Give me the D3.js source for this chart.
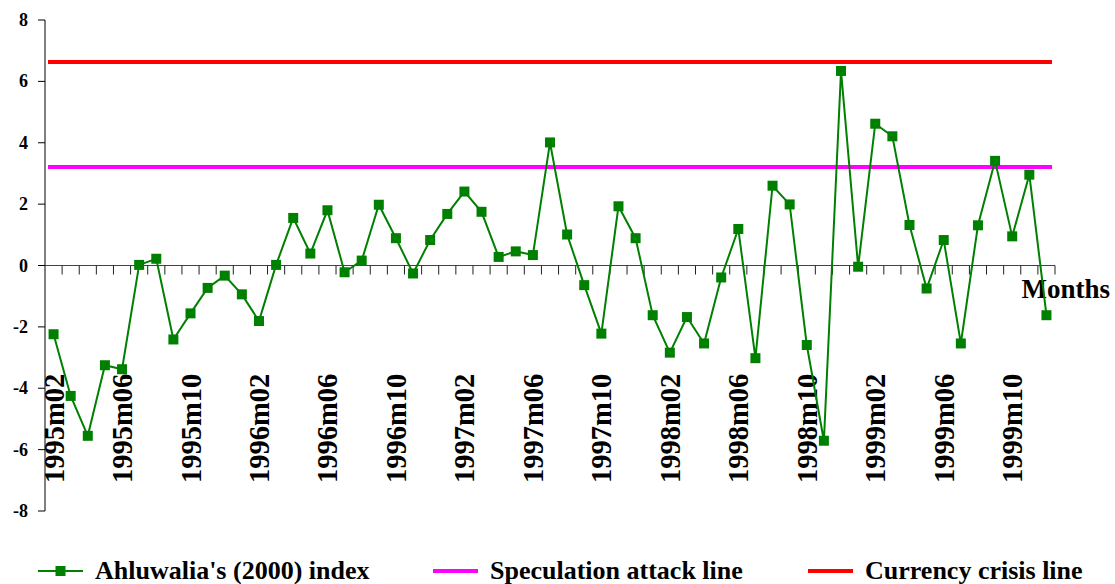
<!DOCTYPE html>
<html>
<head>
<meta charset="utf-8">
<script src="https://cdn.jsdelivr.net/npm/d3@7"></script>
</head>
<body style="margin:0">
<div id="chart"></div>
<script>
// months 1995m02 .. 1999m12
const years = [1995, 1996, 1997, 1998, 1999]
const months = []
years.forEach(y => {
  for (let m = 1; m <= 12; m++) {
    if (y === 1995 && m < 2) continue
    months.push(y + 'm' + (m < 10 ? '0' + m : m))
  }
})
const index = [
  -2.24, -4.25, -5.55, -3.25, -3.38, 0.02, 0.22, -2.41, -1.56, -0.73, -0.33,
  -0.94, -1.81, 0.02, 1.55, 0.39, 1.80, -0.22, 0.16, 1.98, 0.89, -0.26,
  0.83, 1.68, 2.41, 1.75, 0.28, 0.46, 0.34, 4.01, 1.01, -0.64, -2.22,
  1.93, 0.89, -1.62, -2.84, -1.68, -2.54, -0.39, 1.19, -3.02, 2.60,
  1.99, -2.59, -5.71, 6.34, -0.04, 4.62, 4.21, 1.32, -0.75, 0.83,
  -2.54, 1.31, 3.41, 0.95, 2.96, -1.62
]
const speculationLine = 3.21
const crisisLine = 6.63
const yTicks = [-8, -6, -4, -2, 0, 2, 4, 6, 8]
const legendNames = ["Ahluwalia's (2000) index", 'Speculation attack line', 'Currency crisis line']

const width = 1115
const height = 584
const svg = d3.select('#chart').append('svg')
  .attr('width', width).attr('height', height)

const fonts = ['serif', 'Times New Roman', 'Liberation Serif']
const addText = (size, fam) => svg.append('text')
  .attr('font-family', fam || 'serif').attr('font-weight', 'bold')
  .attr('font-size', size)

const xScale = d3.scaleBand().domain(months).range([45, 1055]).padding(0)
const yScale = d3.scaleLinear().domain([-8, 8]).range([511, 20])
const xc = d => xScale(d) + xScale.bandwidth() / 2

// y axis
svg.append('line').attr('x1', 45).attr('x2', 45)
  .attr('y1', yScale(8)).attr('y2', yScale(-8)).attr('stroke', '#000')
yTicks.forEach(t => {
  svg.append('line').attr('x1', 38).attr('x2', 45)
    .attr('y1', yScale(t)).attr('y2', yScale(t)).attr('stroke', '#000')
  addText(18, 'Times New Roman').attr('x', 28).attr('y', yScale(t) + 6)
    .attr('text-anchor', 'end').text(t)
})

// x axis at zero
const y0 = yScale(0)
svg.append('line').attr('x1', 45).attr('x2', 1055).attr('y1', y0).attr('y2', y0)
  .attr('stroke', '#444').attr('stroke-width', 1)
months.slice(1).concat(['end']).forEach(d => {
  const x = d === 'end' ? 1055 : xScale(d)
  svg.append('line').attr('x1', x).attr('x2', x)
    .attr('y1', y0).attr('y2', y0 + 9)
    .attr('stroke', '#222').attr('stroke-width', 1)
})

months.filter((d, i) => i % 4 === 0).forEach(d => {
  addText(28.5, 'serif').attr('transform', `translate(${xc(d) + 10},483) rotate(-90)`).text(d)
})

addText(27, 'Liberation Serif').attr('x', 1110).attr('y', 298).attr('text-anchor', 'end').text('Months')

// threshold lines
const [x0, x1] = xScale.range()
svg.append('line').attr('x1', x0 + 3).attr('x2', x1 - 3)
  .attr('y1', yScale(speculationLine)).attr('y2', yScale(speculationLine))
  .attr('stroke', '#ff00ff').attr('stroke-width', 4)
svg.append('line').attr('x1', x0 + 3).attr('x2', x1 - 3)
  .attr('y1', yScale(crisisLine)).attr('y2', yScale(crisisLine))
  .attr('stroke', '#ff0000').attr('stroke-width', 4)

// index series
const line = d3.line().x((d, i) => xc(months[i])).y(d => yScale(d))
svg.append('path').datum(index).attr('d', line)
  .attr('fill', 'none').attr('stroke', '#008000').attr('stroke-width', 2)
const ms = 10
index.forEach((v, i) => {
  svg.append('rect')
    .attr('x', xc(months[i]) - ms / 2).attr('y', yScale(v) - ms / 2)
    .attr('width', ms).attr('height', ms).attr('fill', '#008000')
})

// legend
const legendItems = [
  { x: 38, color: '#008000', w: 2, marker: true, tx: 95 },
  { x: 433, color: '#ff00ff', w: 4, marker: false, tx: 490 },
  { x: 808, color: '#ff0000', w: 4, marker: false, tx: 865 }
]
const ly = 571
legendItems.forEach((it, i) => {
  svg.append('line').attr('x1', it.x).attr('x2', it.x + 45).attr('y1', ly).attr('y2', ly)
    .attr('stroke', it.color).attr('stroke-width', it.w)
  if (it.marker) {
    svg.append('rect').attr('x', it.x + 22.5 - ms / 2).attr('y', ly - ms / 2)
      .attr('width', ms).attr('height', ms).attr('fill', it.color)
  }
  addText(26, fonts[i]).attr('x', it.tx).attr('y', ly + 8).text(legendNames[i])
})
</script>
</body>
</html>
